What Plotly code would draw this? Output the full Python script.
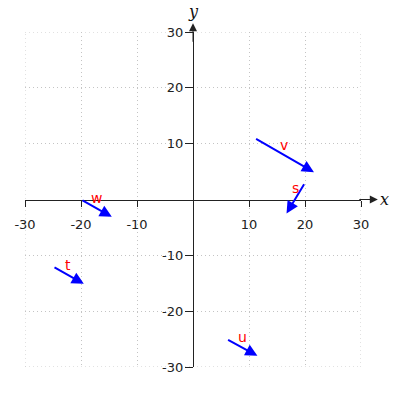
import plotly.graph_objects as go

# Vector data
names = ["v", "s", "w", "t", "u"]
tail_x = [11, 20, -20, -25, 6]
tail_y = [11, 3, 0, -12, -25]
comp_x = [10.6, -3.3, 5.5, 5.5, 5.5]
comp_y = [-6.1, -5.5, -3.1, -3.1, -3.0]

tick_vals = [-30, -20, -10, 10, 20, 30]
tick_text = ["-30", "-20", "-10", "10", "20", "30"]
lo, hi = tick_vals[0], tick_vals[-1]

fig = go.Figure()
fig.add_trace(go.Scatter(x=[None], y=[None], showlegend=False, hoverinfo="skip"))

grid_style = dict(color="#c4c4c4", width=1, dash="1px,3px")
for v in (lo, hi):
    fig.add_shape(type="line", x0=v, x1=v, y0=lo, y1=hi, xref="x", yref="y",
                  line=grid_style, layer="below")
    fig.add_shape(type="line", y0=v, y1=v, x0=lo, x1=hi, xref="x", yref="y",
                  line=grid_style, layer="below")

ann = []
for n, x0, y0, dx, dy in zip(names, tail_x, tail_y, comp_x, comp_y):
    ann.append(dict(x=x0 + dx, y=y0 + dy, ax=x0, ay=y0, xref="x", yref="y",
                    axref="x", ayref="y", showarrow=True, arrowhead=2,
                    arrowwidth=2, arrowsize=1.2, arrowcolor="#0000ff", text=""))
    ann.append(dict(x=x0 + dx / 2, y=y0 + dy / 2, xref="x", yref="y", text=n,
                    showarrow=False, yshift=10,
                    font=dict(family="DejaVu Sans", size=14, color="#ff0000")))

# axis extension arrows
ann.append(dict(x=1.05, y=0, xref="paper", yref="y", ax=-20, ay=0,
                showarrow=True, arrowhead=2, arrowwidth=1, arrowsize=1.6,
                arrowcolor="#222", text=""))
ann.append(dict(x=0, y=1.026, xref="x", yref="paper", ax=0, ay=20,
                showarrow=True, arrowhead=2, arrowwidth=1, arrowsize=1.6,
                arrowcolor="#222", text=""))
ann.append(dict(x=1.071, y=0, xref="paper", yref="y", text="<i>x</i>", showarrow=False,
                xanchor="center", font=dict(family="DejaVu Serif", size=16, color="#111")))
ann.append(dict(x=0, y=1.06, xref="x", yref="paper", text="<i>y</i>", showarrow=False,
                yanchor="middle", font=dict(family="DejaVu Serif", size=16, color="#111")))

axis_common = dict(range=[lo, hi], tickvals=tick_vals, ticktext=tick_text,
                   showgrid=True, gridcolor="#c4c4c4", griddash="1px,3px", gridwidth=1,
                   zeroline=False, showline=True, linecolor="#222", linewidth=1.2,
                   ticks="outside", tickcolor="#222",
                   tickfont=dict(family="DejaVu Sans", size=13, color="#222"),
                   anchor="free", position=0.5, automargin=False)

fig.update_layout(
    width=400, height=400,
    margin=dict(l=25, r=39, t=32, b=33, autoexpand=False),
    paper_bgcolor="white", plot_bgcolor="white",
    xaxis=dict(axis_common, ticklen=6, ticklabelstandoff=7),
    yaxis=dict(axis_common, ticklen=8, ticklabelstandoff=-1),
    annotations=ann,
    showlegend=False,
)
fig.write_html("out.html", config={"displayModeBar": False},
               post_script="document.body.style.margin='0';")
